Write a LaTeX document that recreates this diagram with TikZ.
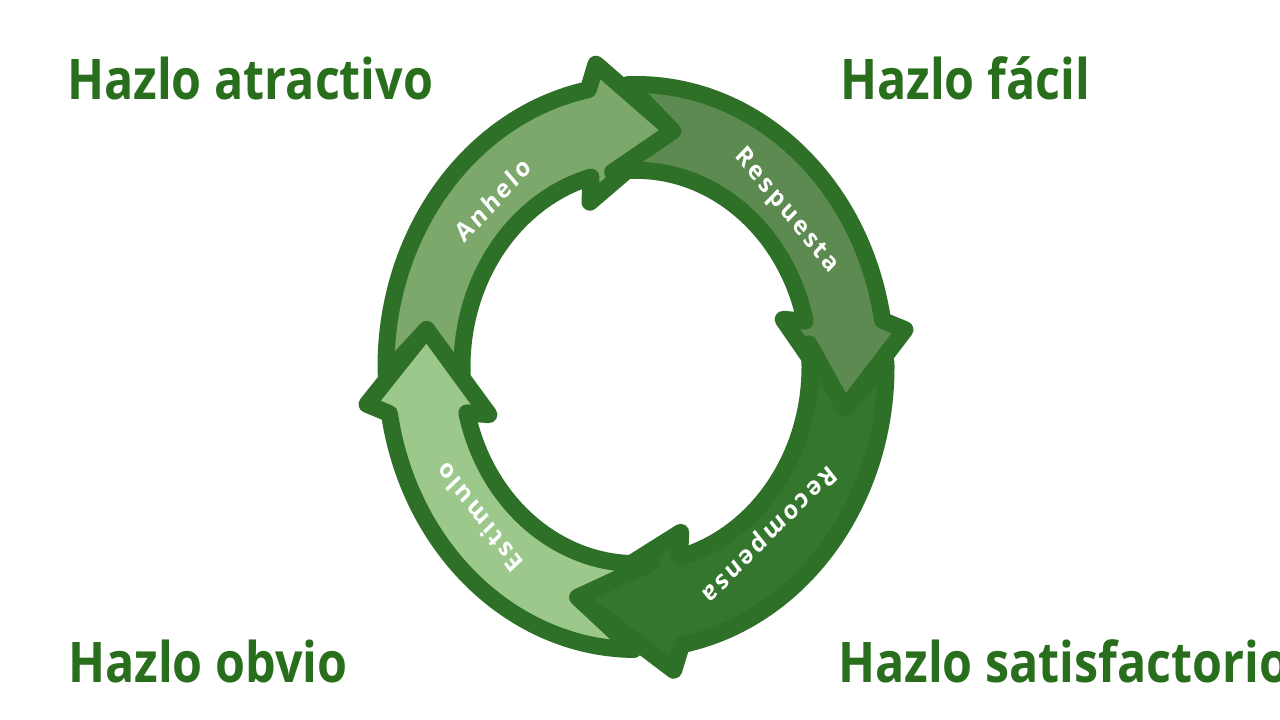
\documentclass[tikz,border=0pt]{standalone}
\usepackage{fontspec}
\setmainfont{Open Sans}
\newfontfamily\titlefont{Open Sans}[FakeStretch=0.865]
\newfontfamily\ringfont{Open Sans}[LetterSpace=12]
\definecolor{ringdark}{RGB}{46,112,40}
\definecolor{titlegreen}{RGB}{40,110,28}
\definecolor{fillanhelo}{RGB}{124,168,108}
\definecolor{fillrespuesta}{RGB}{92,138,80}
\definecolor{fillrecompensa}{RGB}{52,118,45}
\definecolor{fillestimulo}{RGB}{156,200,140}
\newcommand\drawringarrow[5]{%
  \pgfmathsetmacro\raBo{#1-4.5}\pgfmathsetmacro\raBi{#1+4.5}%
  \pgfmathsetmacro\raCo{#1-2}\pgfmathsetmacro\raCi{#1+2}%
  \pgfmathsetmacro\raAo{(#3-4.5)-0.356*(#3-4.5-(#4))}%
  \pgfmathsetmacro\raAi{(#3+4.5)-0.356*(#3+4.5-(#4))}%
  \draw[ringarrow, fill=#5] (\raAo:250) arc[start angle=\raAo, end angle=\raCo, radius=250]
    -- (\raBo:271) -- (#2:212) -- (\raBi:153) -- (\raCi:174)
    arc[start angle=\raCi, end angle=\raAi, radius=174] -- (#4:212) -- cycle;
}
\begin{document}
\begin{tikzpicture}[x=1pt,y=1pt,
  ringarrow/.style={draw=ringdark, line width=17pt, line join=round},
  title/.style={anchor=base west, text=titlegreen, inner sep=0pt,
    font=\titlefont\bfseries\fontsize{56}{60}\selectfont},
  ringlabel/.style={text=white, inner sep=0pt, transform shape,
    font=\ringfont\bfseries\fontsize{23}{26}\selectfont}]
\useasboundingbox (0,0) rectangle (1280,720);
\fill[white] (0,0) rectangle (1280,720);
\begin{scope}[shift={(636,353)}, yscale=1.13]
  % Anhelo (top-left), Respuesta (top-right), Recompensa (bottom-right), Estimulo (bottom-left)
  \drawringarrow{103}{80}{191.5}{171}{fillanhelo}
  \drawringarrow{11.5}{-10}{103}{80}{fillrespuesta}
  \drawringarrow{-77.5}{-106}{11.5}{-10}{fillrecompensa}
  \drawringarrow{191.5}{171}{282.5}{254}{fillestimulo}
  \node[ringlabel, rotate=44] (lanhelo) at (134:206) {Anhelo};
  \node[ringlabel, rotate=-47.5] (lrespuesta) at (42.5:204) {Respuesta};
  \node[ringlabel, rotate=-138] (lrecompensa) at (-48:198) {Recompensa};
  \node[ringlabel, rotate=130.3] (lestimulo) at (-139.7:206) {Estimulo};
\end{scope}
\node[title] (tatractivo) at (67,620) {Hazlo atractivo};
\node[title] (tfacil) at (840,620) {Hazlo fácil};
\node[title] (tobvio) at (68,37) {Hazlo obvio};
\node[title] (tsatisf) at (838,37) {Hazlo satisfactorio};
\end{tikzpicture}
\end{document}
